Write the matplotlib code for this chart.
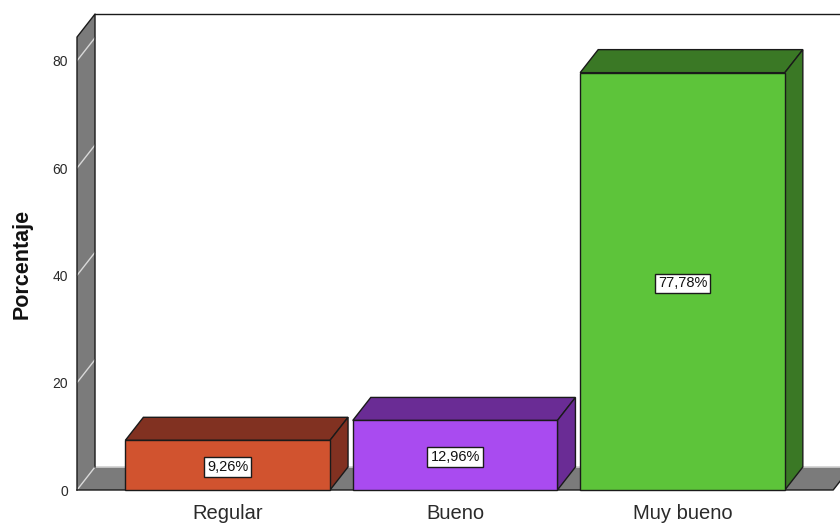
import matplotlib
matplotlib.use("Agg")
import matplotlib.pyplot as plt
from matplotlib.patches import Polygon

plt.rcParams["font.family"] = ["Liberation Sans", "DejaVu Sans"]

# Data
categories = ["Regular", "Bueno", "Muy bueno"]
percentages = [9.26, 12.96, 77.78]
value_labels = ["9,26%", "12,96%", "77,78%"]
y_ticks = [0, 20, 40, 60, 80]

front_colors = ["#D1532F", "#A94BF0", "#5DC43A"]
dark_colors = ["#813121", "#6A2C95", "#3A7825"]
wall_color = "#7B7B7B"

# Geometry (data units): bar width, depth offset of the pseudo-3D box
bar_w = 0.9
dx, dy = 0.0792, 4.29
x_left, x_right = -0.6627, 2.6627
y_top = 88.7

W, H = 840, 526
fig = plt.figure(figsize=(W / 100, H / 100), dpi=100)
ax = fig.add_axes([77 / W, 36 / H, (W - 77) / W, 490 / H])
ax.set_xlim(x_left, 2.6926)
ax.set_ylim(0, 91.32)
for s in ax.spines.values():
    s.set_visible(False)

edge = "#1a1a1a"
lw = 1.0

# Left wall
wall = Polygon([(x_left, 0), (x_left + dx, dy), (x_left + dx, y_top),
                (x_left, y_top - dy)], closed=True, facecolor=wall_color,
               edgecolor="none", clip_on=False, zorder=1)
ax.add_patch(wall)
# Floor
floor = Polygon([(x_left, 0), (x_right, 0), (x_right + dx, dy), (x_left + dx, dy)],
                closed=True, facecolor=wall_color, edgecolor="none",
                clip_on=False, zorder=1)
ax.add_patch(floor)

# Light grid lines on the wall and floor back edge
for t in y_ticks:
    ax.plot([x_left, x_left + dx], [t, t + dy], color="#d9d9d9", lw=1.0,
            zorder=2, clip_on=False)
ax.plot([x_left + dx, 2.6926], [dy, dy], color="#d0d0d0", lw=1.2, zorder=2,
        clip_on=False)

# Wall outlines
ax.plot([x_left, x_left, x_left + dx, x_left + dx],
        [0, y_top - dy, y_top, dy], color=edge, lw=lw, zorder=3, clip_on=False)
ax.plot([x_left + dx, 2.6926], [y_top, y_top], color=edge, lw=lw, zorder=3,
        clip_on=False)
# Floor outlines
ax.plot([x_left, x_right, x_right + dx], [0, 0, dy], color=edge, lw=lw,
        zorder=3, clip_on=False)

# Bars as boxes
for i, (v, fc, dc, lab) in enumerate(zip(percentages, front_colors,
                                         dark_colors, value_labels)):
    x0, x1 = i - bar_w / 2, i + bar_w / 2
    top = Polygon([(x0, v), (x1, v), (x1 + dx, v + dy), (x0 + dx, v + dy)],
                  closed=True, facecolor=dc, edgecolor=edge, lw=lw, zorder=4,
                  clip_on=False)
    side = Polygon([(x1, 0), (x1 + dx, dy), (x1 + dx, v + dy), (x1, v)],
                   closed=True, facecolor=dc, edgecolor=edge, lw=lw, zorder=4,
                   clip_on=False)
    front = Polygon([(x0, 0), (x1, 0), (x1, v), (x0, v)], closed=True,
                    facecolor=fc, edgecolor=edge, lw=lw, zorder=5,
                    clip_on=False)
    for p in (top, side, front):
        ax.add_patch(p)
    ax.text(i, v / 2 - 0.4, lab, ha="center", va="center", fontsize=10.5,
            color="#111111", zorder=6,
            bbox=dict(boxstyle="square,pad=0.2", facecolor="white",
                      edgecolor=edge, lw=1.0))

# Axes ticks and labels
ax.set_yticks(y_ticks)
ax.set_yticklabels([str(t) for t in y_ticks], fontsize=10, color="#2a2a2a")
ax.set_xticks(range(len(categories)))
ax.set_xticklabels(categories, fontsize=14.5, color="#2a2a2a")
ax.tick_params(axis="y", length=0, pad=6.5)
ax.tick_params(axis="x", length=0, pad=10)

fig.text(22.5 / W, 1 - 264 / H, "Porcentaje", rotation=90, ha="center",
         va="center", fontsize=15.5, fontweight="bold", color="#111111")

fig.savefig("out.png", dpi=100)
